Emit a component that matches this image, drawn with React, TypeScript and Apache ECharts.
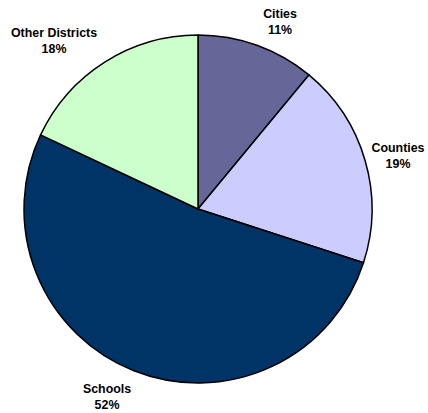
import React, { useEffect, useRef } from "react";
import * as echarts from "echarts";

const categories = ["Cities", "Counties", "Schools", "Other Districts"];
const values = [11, 19, 52, 18];
const colors = ["#666699", "#CCCCFF", "#003366", "#CCFFCC"];
// label anchor centres (x, y) in pixels
const labelAnchors: [number, number][] = [
  [280, 22],
  [398, 156],
  [107, 397],
  [54, 41],
];

export default function App() {
  const ref = useRef<HTMLDivElement>(null);
  useEffect(() => {
    document.body.style.margin = "0";
    const chart = echarts.init(ref.current!, null, { renderer: "svg" });
    chart.setOption({
      animation: false,
      backgroundColor: "#ffffff",
      series: [
        {
          type: "pie",
          center: [198, 209],
          radius: 174,
          startAngle: 90,
          clockwise: true,
          avoidLabelOverlap: false,
          data: categories.map((name, i) => ({
            name,
            value: values[i],
            itemStyle: { color: colors[i] },
          })),
          itemStyle: { borderColor: "#000000", borderWidth: 1.5 },
          emphasis: { disabled: true },
          label: {
            show: true,
            position: "outside",
            formatter: "{b}\n{d}%",
            fontFamily: "Liberation Sans, Arial, sans-serif",
            fontWeight: "bold",
            fontSize: 12.4,
            lineHeight: 16.6,
            color: "#000000",
            align: "center",
          },
          labelLine: { show: false },
          labelLayout: (params: any) => {
            const p = labelAnchors[params.dataIndex];
            return { x: p[0], y: p[1], align: "center", verticalAlign: "middle" };
          },
        },
      ],
    });
    return () => chart.dispose();
  }, []);
  return <div ref={ref} style={{ width: 428, height: 413 }} />;
}
